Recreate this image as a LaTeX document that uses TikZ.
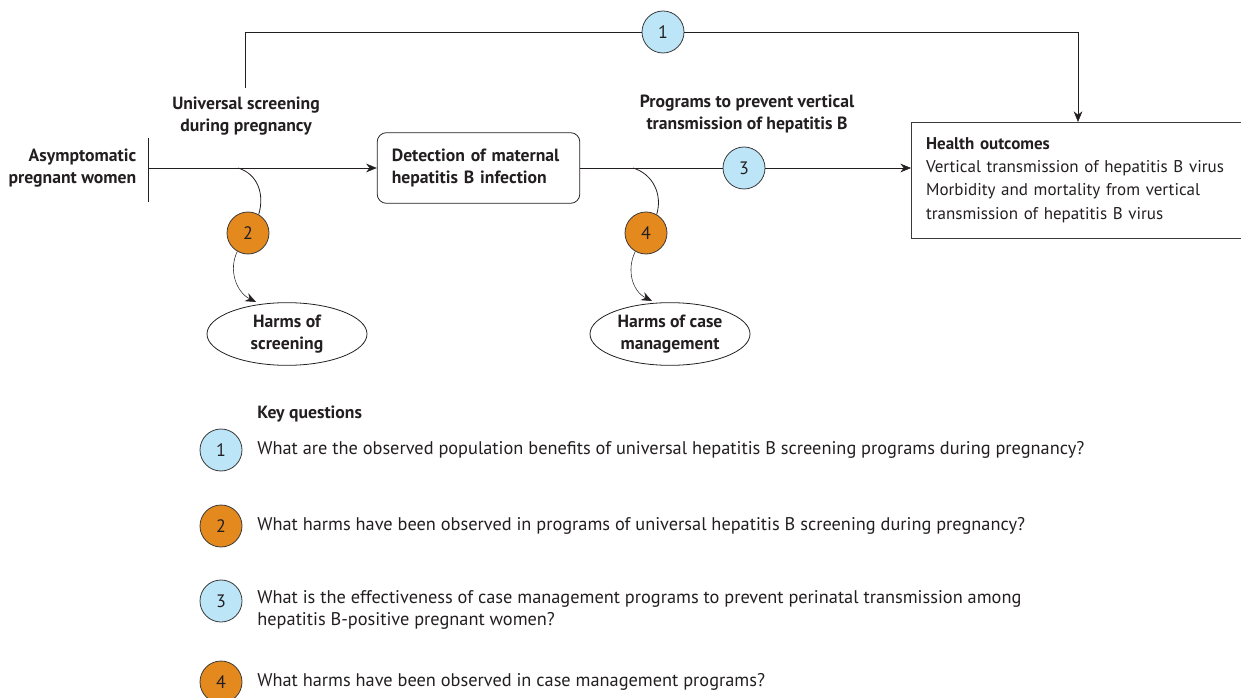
\documentclass[tikz,border=0pt]{standalone}
\usepackage{fontspec}
\setmainfont{PT Sans}
\usepackage{xcolor}
\definecolor{kqblue}{HTML}{BDE5F8}
\definecolor{kqorange}{HTML}{E4891E}
\definecolor{rim}{HTML}{3A3A3A}
\definecolor{ink}{HTML}{231F20}
\usetikzlibrary{arrows.meta, shapes}
\tikzset{
    kq/.style = {
      circle,
      draw = rim,
      minimum size = 31.5pt,
      inner sep = 0pt,
      font = \fontsize{13.5}{15}\selectfont,
    },
    benefit/.style = {
      kq,
      fill = kqblue,
    },
    harm/.style = {
      kq,
      fill = kqorange,
    },
    process/.style = {
      rounded corners = 7pt,
      draw,
      text width = 130pt,
      inner xsep = 11pt,
      minimum height = 53pt,
      align = left,
      font = \bfseries\fontsize{13.25}{17}\selectfont,
    },
    outcome/.style = {
      draw = rim,
      text width = 226pt,
      inner xsep = 11pt,
      minimum height = 87pt,
      align = left,
      font = \fontsize{12.75}{17.5}\selectfont,
    },
    effect/.style = {
      ellipse,
      draw,
      minimum width = 120pt,
      minimum height = 47pt,
      inner sep = 0pt,
      align = center,
      font = \bfseries\fontsize{13.25}{16.5}\selectfont,
    },
    label/.style = {
      align = center,
      font = \bfseries\fontsize{13.25}{17}\selectfont,
    },
    question/.style = {
      anchor = west,
      align = left,
      inner sep = 0pt,
      font = \fontsize{13.75}{16.5}\selectfont,
    },
    -->/.style = {
      -{Stealth[length=8pt, width=6.5pt]},
      thin,
    },
}

\begin{document}
\begin{tikzpicture}[x=0.75pt, y=-0.75pt, line width=0.6pt, color=ink]
    \useasboundingbox (0,0) rectangle (1241,698);

    % population and main chain
    \node[label, align=right, anchor=east] (POP) at (141, 168) {Asymptomatic\\pregnant women};
    \coordinate (BARTOP) at (148, 138);
    \coordinate (BARBOT) at (148, 202);
    \coordinate (START) at (148, 168);
    \node[process] (DETECT) at (478.5, 168) {Detection of maternal\\hepatitis B infection};
    \node[outcome, anchor=west] (OUTCOME) at (911, 180)
      {\textbf{Health outcomes}\\Vertical transmission of hepatitis B virus\\Morbidity and mortality from vertical\\transmission of hepatitis B virus};

    \node[label] (SCREEN) at (246, 116) {Universal screening\\during pregnancy};
    \node[label] (PREVENT) at (747, 114) {Programs to prevent vertical\\transmission of hepatitis B};

    \node[benefit] (KQ3) at (744, 168) {3};
    \node[benefit] (KQ1) at (663, 32) {1};
    \node[harm] (KQ2) at (248, 233) {2};
    \node[harm] (KQ4) at (646, 233) {4};

    \node[effect] (HS) at (287, 334) {Harms of\\screening};
    \node[effect] (HCM) at (670, 334) {Harms of case\\management};

    \coordinate (UPSTART) at (245, 88);
    \coordinate (UPLEFT) at (245, 32);
    \coordinate (UPRIGHT) at (1078, 32);
    \coordinate (DOWNEND) at (1078, 122);
    \coordinate (FORK2) at (238, 168);
    \coordinate (FORK4) at (633, 168);
    \coordinate (TIP2) at (256, 302);
    \coordinate (TIP4) at (652, 301);

    \draw (BARTOP) -- (BARBOT);
    \draw[-->] (START) -- (DETECT.west);
    \draw (DETECT.east) -- (KQ3);
    \draw[-->] (KQ3) -- (OUTCOME.west |- KQ3);

    % overarching question
    \draw (UPSTART) -- (UPLEFT) -- (KQ1.west);
    \draw[-->] (KQ1.east) -- (UPRIGHT) -- (DOWNEND);

    % harms
    \draw (FORK2) .. controls +(20,6) and +(6,-20) .. (KQ2.60);
    \draw[-->] (KQ2.240) .. controls +(-9,18) and +(-20,-10) .. (TIP2);
    \draw (FORK4) .. controls +(20,6) and +(6,-20) .. (KQ4.60);
    \draw[-->] (KQ4.240) .. controls +(-9,18) and +(-20,-10) .. (TIP4);

    % key questions
    \node[question, font=\bfseries\fontsize{13.25}{16}\selectfont] (KQHEAD) at (257, 414) {Key questions};
    \node[benefit] (Q1) at (221, 450) {1};
    \node[harm] (Q2) at (221, 526) {2};
    \node[benefit] (Q3) at (221, 601) {3};
    \node[harm] (Q4) at (221, 682) {4};
    \node[question] (T1) at (257, 450) {What are the observed population benefits of universal hepatitis B screening programs during pregnancy?};
    \node[question] (T2) at (257, 526) {What harms have been observed in programs of universal hepatitis B screening during pregnancy?};
    \node[question, anchor=north west] (T3) at (257, 590) {What is the effectiveness of case management programs to prevent perinatal transmission among\\hepatitis B-positive pregnant women?};
    \node[question] (T4) at (257, 682) {What harms have been observed in case management programs?};
\end{tikzpicture}
\end{document}
